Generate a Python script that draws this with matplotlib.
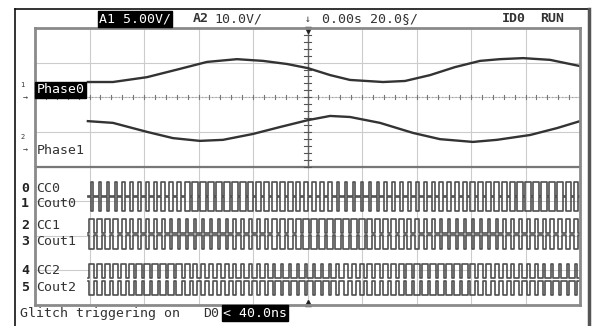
import matplotlib
matplotlib.use("Agg")
import matplotlib.pyplot as plt
from matplotlib.lines import Line2D

# scope time axis: ms, 20 ms/div, centre at 0
t_phase0 = [-80.6, -71.4, -58.9, -46.8, -36.9, -25.9, -16.3, -7.5, 0.2, 8.3,
            15.6, 27.7, 35.8, 45.0, 54.1, 63.3, 70.6, 79.1, 89.0, 100.0]
phase0 = [6.44, 6.44, 6.58, 6.82, 7.02, 7.10, 7.05, 6.96, 6.84, 6.64,
          6.50, 6.44, 6.47, 6.64, 6.87, 7.05, 7.10, 7.13, 7.08, 6.90]

t_phase1 = [-80.6, -71.4, -58.9, -49.4, -39.5, -31.0, -20.0, -10.1, 0.2, 8.3,
            15.6, 26.6, 38.7, 48.6, 60.7, 69.5, 81.7, 91.6, 100.0]
phase1 = [5.31, 5.26, 5.00, 4.82, 4.74, 4.77, 4.94, 5.14, 5.34, 5.46,
          5.43, 5.26, 4.97, 4.79, 4.71, 4.77, 4.91, 5.11, 5.31]

# PWM duty per cycle (62 cycles) for the compare outputs
duty_cc0 = [0.26, 0.26, 0.27, 0.28, 0.30, 0.33, 0.37, 0.40, 0.44, 0.49, 0.53, 0.57, 0.61,
            0.65, 0.68, 0.70, 0.72, 0.74, 0.75, 0.75, 0.73, 0.72, 0.70, 0.67, 0.63, 0.60,
            0.56, 0.51, 0.47, 0.43, 0.39, 0.35, 0.32, 0.30, 0.28, 0.26, 0.26, 0.26, 0.27,
            0.28, 0.30, 0.33, 0.37, 0.40, 0.44, 0.49, 0.53, 0.57, 0.61, 0.65, 0.68, 0.70,
            0.72, 0.74, 0.75, 0.75, 0.73, 0.72, 0.70, 0.67, 0.63, 0.60]
duty_cc1 = [0.67, 0.63, 0.60, 0.56, 0.51, 0.47, 0.43, 0.39, 0.35, 0.32, 0.30, 0.28, 0.26,
            0.26, 0.26, 0.27, 0.28, 0.30, 0.33, 0.37, 0.40, 0.44, 0.49, 0.53, 0.57, 0.61,
            0.65, 0.68, 0.70, 0.72, 0.74, 0.75, 0.75, 0.73, 0.72, 0.70, 0.67, 0.63, 0.60,
            0.56, 0.51, 0.47, 0.43, 0.39, 0.35, 0.32, 0.30, 0.28, 0.26, 0.26, 0.26, 0.27,
            0.28, 0.30, 0.33, 0.37, 0.40, 0.44, 0.49, 0.53, 0.57, 0.61]
duty_cc2 = [0.60, 0.63, 0.67, 0.70, 0.72, 0.73, 0.75, 0.75, 0.74, 0.72, 0.70, 0.68, 0.65,
            0.61, 0.57, 0.53, 0.49, 0.44, 0.40, 0.37, 0.33, 0.30, 0.28, 0.27, 0.26, 0.26,
            0.26, 0.28, 0.30, 0.32, 0.35, 0.39, 0.43, 0.47, 0.51, 0.56, 0.60, 0.63, 0.67,
            0.70, 0.72, 0.73, 0.75, 0.75, 0.74, 0.72, 0.70, 0.68, 0.65, 0.61, 0.57, 0.53,
            0.49, 0.44, 0.40, 0.37, 0.33, 0.30, 0.28, 0.27, 0.26, 0.26]

dig_names = ["CC0", "Cout0", "CC1", "Cout1", "CC2", "Cout2"]
dig_base = [3.16, 2.72, 2.09, 1.63, 0.79, 0.30]   # low level of each trace, in div
dig_duty = [duty_cc0, duty_cc0, duty_cc1, duty_cc1, duty_cc2, duty_cc2]
dig_inverted = [False, True, False, True, False, True]

T_START, T_END = -80.6, 100.0
HIGH = 0.40
MONO = "DejaVu Sans Mono"
FS = 9.5
INK = "#333333"

fig = plt.figure(figsize=(5.94, 3.26), dpi=100)
ax = fig.add_axes([35 / 594, 1 - 305 / 326, 545 / 594, 277 / 326])
ax.set_xlim(-100, 100)
ax.set_ylim(0, 8)
ax.set_xticks(range(-100, 101, 20))
ax.set_yticks(range(0, 9))
ax.tick_params(length=0, labelbottom=False, labelleft=False)
ax.grid(True, color="#cccccc", lw=0.8)
for s in ax.spines.values():
    s.set_color("#8a8a8a")
    s.set_linewidth(2)

# analog / digital separator and centre graticule with minor ticks
ax.axhline(4, color="#777777", lw=1.6)
ax.axhline(6, color="#9a9a9a", lw=0.8, ls=(0, (1, 2)))
for i in range(-25, 26):
    x = i * 4
    ax.plot([x, x], [5.94, 6.06], color="#777777", lw=0.8)
ax.plot([0, 0], [4, 8], color="#666666", lw=1.0)
for i in range(20, 41):
    y = i * 0.2
    ax.plot([-1.3, 1.3], [y, y], color="#555555", lw=0.8)
ax.plot([0], [7.93], marker="v", color="#222222", ms=5, clip_on=False)
ax.plot([0], [0.05], marker="^", color="#222222", ms=5, clip_on=False)

# analog traces
ax.plot(t_phase0, phase0, color=INK, lw=1.7, solid_joinstyle="round")
ax.plot(t_phase1, phase1, color=INK, lw=1.7, solid_joinstyle="round")

# digital traces
period = (T_END - T_START) / len(duty_cc0)
for base, duty, inv in zip(dig_base, dig_duty, dig_inverted):
    lo, hi = (base + HIGH, base) if inv else (base, base + HIGH)
    xs, ys = [T_START], [lo]
    for k, d in enumerate(duty):
        c = T_START + (k + 0.5) * period
        a, b = c - d * period / 2, c + d * period / 2
        xs += [a, a, b, b]
        ys += [lo, hi, hi, lo]
    xs.append(T_END)
    ys.append(lo)
    ax.plot(xs, ys, color="#505050", lw=1.2)

# channel labels
ax.text(-99.5, 6.03, "Phase0", family=MONO, fontsize=FS, color="white", va="bottom",
        bbox=dict(facecolor="black", edgecolor="black", pad=1.0))
ax.text(-99.5, 4.45, "Phase1", family=MONO, fontsize=FS, color=INK, va="center")
ax.text(-104.5, 6.35, "1", family=MONO, fontsize=5, color=INK, ha="center", va="center", clip_on=False)
ax.text(-103.5, 6.0, "\u2192", family=MONO, fontsize=6, color=INK, ha="center", va="center", clip_on=False)
ax.text(-104.5, 4.85, "2", family=MONO, fontsize=5, color=INK, ha="center", va="center", clip_on=False)
ax.text(-103.5, 4.5, "\u2192", family=MONO, fontsize=6, color=INK, ha="center", va="center", clip_on=False)
for i, (name, base) in enumerate(zip(dig_names, dig_base)):
    ax.text(-103.7, base + 0.2, str(i), family=MONO, fontsize=FS, fontweight="bold",
            color="#222222", ha="center", va="center", clip_on=False)
    ax.text(-99.5, base + 0.2, name, family=MONO, fontsize=FS, color=INK, va="center")

# header
ax.text(-76.5, 8.27, "A1 5.00V/", family=MONO, fontsize=FS, color="white", va="center",
        clip_on=False, bbox=dict(facecolor="black", edgecolor="black", pad=1.0))
ax.text(-42.0, 8.27, "A2", family=MONO, fontsize=FS, fontweight="bold", color=INK, va="center", clip_on=False)
ax.text(-34.0, 8.27, "10.0V/", family=MONO, fontsize=FS, color=INK, va="center", clip_on=False)
ax.text(0, 8.27, "\u2193", family=MONO, fontsize=7, color=INK, ha="center", va="center", clip_on=False)
ax.text(5.3, 8.27, "0.00s 20.0\u00a7/", family=MONO, fontsize=FS, color=INK, va="center", clip_on=False)
ax.text(71.4, 8.27, "ID0", family=MONO, fontsize=FS, fontweight="bold", color=INK, va="center", clip_on=False)
ax.text(85.5, 8.27, "RUN", family=MONO, fontsize=FS, fontweight="bold", color=INK, va="center", clip_on=False)

# footer
ax.text(-105.5, -0.24, "Glitch triggering on", family=MONO, fontsize=FS, color=INK,
        va="center", clip_on=False)
ax.text(-38.4, -0.24, "D0", family=MONO, fontsize=FS, color=INK, va="center", clip_on=False)
ax.text(-31.0, -0.24, "< 40.0ns", family=MONO, fontsize=FS, color="white", va="center",
        clip_on=False, bbox=dict(facecolor="black", edgecolor="black", pad=1.0))

# outer bezel of the screen capture
fig.add_artist(Line2D([15 / 594, 15 / 594], [0, 1 - 9 / 326], color="#111111", lw=1.2))
fig.add_artist(Line2D([15 / 594, 589 / 594], [1 - 9 / 326, 1 - 9 / 326], color="#111111", lw=1.2))
fig.add_artist(Line2D([589 / 594, 589 / 594], [0, 1 - 9 / 326], color="#555555", lw=2.5))

fig.savefig("out.png", dpi=100)
